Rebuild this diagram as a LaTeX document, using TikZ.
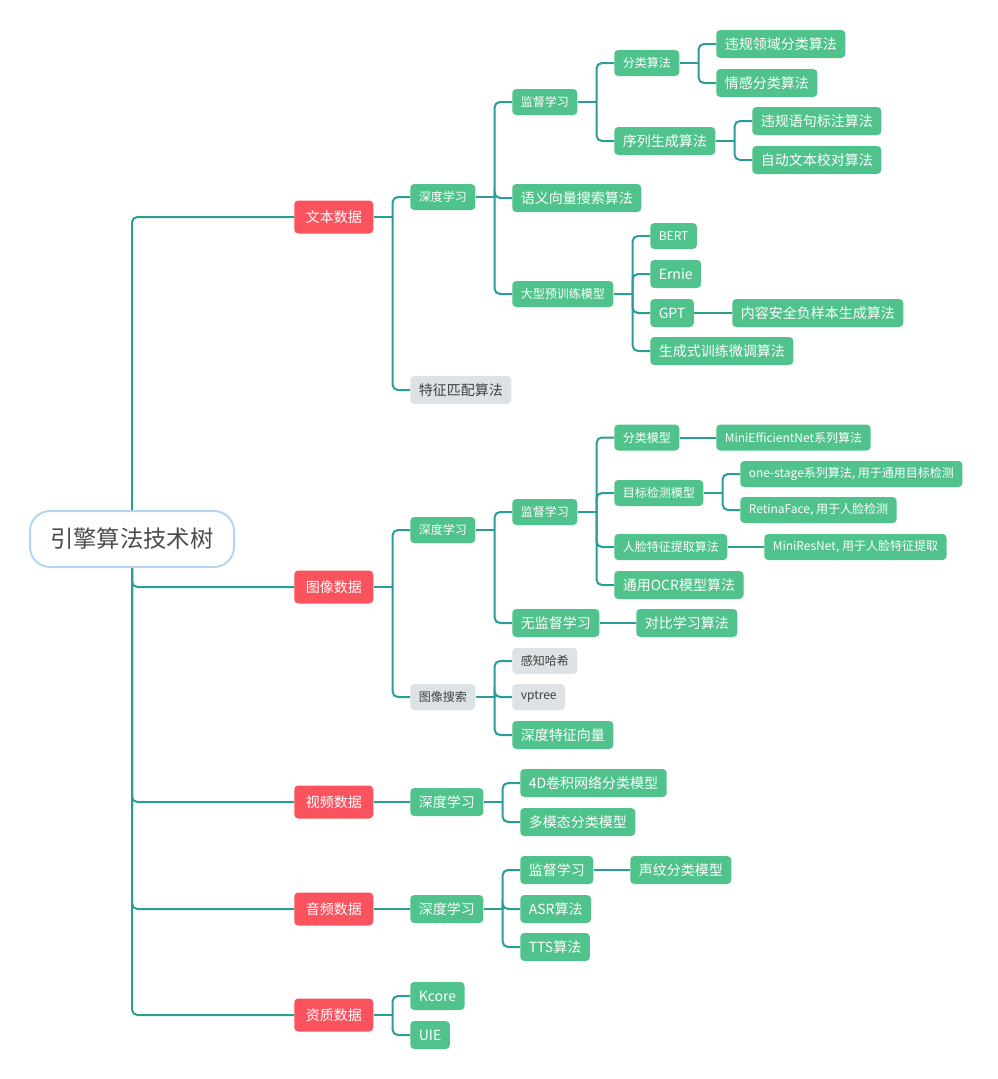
\documentclass[tikz,border=0pt]{standalone}
\usepackage{fontspec}
\newfontfamily\cjk{Noto Sans CJK SC}
\definecolor{grn}{RGB}{80,194,139}
\definecolor{rd}{RGB}{250,83,94}
\definecolor{gry}{RGB}{220,226,229}
\definecolor{lnk}{RGB}{42,157,152}
\definecolor{rootb}{RGB}{181,213,245}
\tikzset{
  box/.style={anchor=west, text=white, fill=grn, rounded corners=3pt, inner xsep=6.4pt, inner ysep=0pt},
  g/.style={box, font=\cjk\fontsize{10.5}{12}\selectfont, minimum height=21pt},
  gs/.style={box, font=\cjk\fontsize{9}{11}\selectfont, minimum height=19.5pt},
  gray/.style={fill=gry, text=black!75},
  red/.style={box, fill=rd, font=\cjk\fontsize{10.5}{12}\selectfont, minimum height=24.75pt, minimum width=59.25pt},
  rootnode/.style={draw=rootb, line width=1.5pt, fill=white, rounded corners=15pt, text=black!70,
    font=\cjk\fontsize{17.5}{20}\selectfont, minimum width=153pt, minimum height=42pt},
  link/.style={draw=lnk, line width=1.5pt, rounded corners=4pt},
}
\newcommand\branch[2]{%
  \draw[link] (#1.east) -- ++(19,0) coordinate (#1-j);
  \foreach \c in {#2} {\draw[link] (#1-j) |- (\c.west);}}
\begin{document}
\begin{tikzpicture}[x=0.75pt,y=-0.75pt]
\useasboundingbox (0,0) rectangle (998,1079);
% root
\node[rootnode] (root) at (132,539) {引擎算法技术树};
% level 1
\node[red] (txt) at (294,217) {文本数据};
\node[red] (img) at (294,587) {图像数据};
\node[red] (vid) at (294,802) {视频数据};
\node[red] (aud) at (294,909) {音频数据};
\node[red] (qua) at (294,1015) {资质数据};
% text
\node[gs] (t1) at (410,197) {深度学习};
\node[g,gray] (t2) at (410,390) {特征匹配算法};
\node[gs] (t11) at (512,102) {监督学习};
\node[g] (t12) at (512,198) {语义向量搜索算法};
\node[gs] (t13) at (512,294) {大型预训练模型};
\node[gs] (t111) at (614,63) {分类算法};
\node[g] (t112) at (614,141) {序列生成算法};
\node[g] (t1111) at (716,44) {违规领域分类算法};
\node[g] (t1112) at (716,83) {情感分类算法};
\node[g] (t1121) at (752,121) {违规语句标注算法};
\node[g] (t1122) at (752,160) {自动文本校对算法};
\node[gs] (bert) at (650,236) {BERT};
\node[g] (ernie) at (650,274) {Ernie};
\node[g] (gpt) at (650,313) {GPT};
\node[g] (gen) at (650,351) {生成式训练微调算法};
\node[g] (neg) at (732,313) {内容安全负样本生成算法};
% image
\node[gs] (i1) at (410,530) {深度学习};
\node[gs,gray] (i2) at (410,697) {图像搜索};
\node[gs] (i11) at (512,512) {监督学习};
\node[g] (i12) at (512,623) {无监督学习};
\node[g] (i121) at (636,623) {对比学习算法};
\node[gs] (i111) at (614,437.5) {分类模型};
\node[gs] (i112) at (614,493) {目标检测模型};
\node[gs] (i113) at (614,547) {人脸特征提取算法};
\node[g] (i114) at (614,585) {通用OCR模型算法};
\node[gs] (i1111) at (716,437.5) {MiniEfficientNet系列算法};
\node[gs] (i1121) at (740,474) {one-stage系列算法, 用于通用目标检测};
\node[gs] (i1122) at (740,510) {RetinaFace, 用于人脸检测};
\node[gs] (i1131) at (764,547) {MiniResNet, 用于人脸特征提取};
\node[gs,gray] (i21) at (512,661) {感知哈希};
\node[gs,gray] (i22) at (512,697) {vptree};
\node[g] (i23) at (512,735) {深度特征向量};
% video
\node[g] (v1) at (410,802) {深度学习};
\node[g] (v11) at (520,783) {4D卷积网络分类模型};
\node[g] (v12) at (520,822) {多模态分类模型};
% audio
\node[g] (a1) at (410,909) {深度学习};
\node[g] (a11) at (520,870) {监督学习};
\node[g] (a111) at (630,870) {声纹分类模型};
\node[g] (a12) at (520,909) {ASR算法};
\node[g] (a13) at (520,947) {TTS算法};
% qualification
\node[g] (q1) at (410,996) {Kcore};
\node[g] (q2) at (410,1035) {UIE};
% connectors
\draw[link] (root.north) |- (txt.west);
\foreach \c in {img,vid,aud,qua} {\draw[link] (root.south) |- (\c.west);}
\branch{txt}{t1,t2}
\branch{t1}{t11,t12,t13}
\branch{t11}{t111,t112}
\branch{t111}{t1111,t1112}
\branch{t112}{t1121,t1122}
\branch{t13}{bert,ernie,gpt,gen}
\draw[link] (gpt.east) -- (neg.west);
\branch{img}{i1,i2}
\branch{i1}{i11,i12}
\draw[link] (i12.east) -- (i121.west);
\branch{i11}{i111,i112,i113,i114}
\draw[link] (i111.east) -- (i1111.west);
\branch{i112}{i1121,i1122}
\draw[link] (i113.east) -- (i1131.west);
\branch{i2}{i21,i22,i23}
\draw[link] (vid.east) -- (v1.west);
\branch{v1}{v11,v12}
\draw[link] (aud.east) -- (a1.west);
\branch{a1}{a11,a12,a13}
\draw[link] (a11.east) -- (a111.west);
\branch{qua}{q1,q2}
\end{tikzpicture}
\end{document}
